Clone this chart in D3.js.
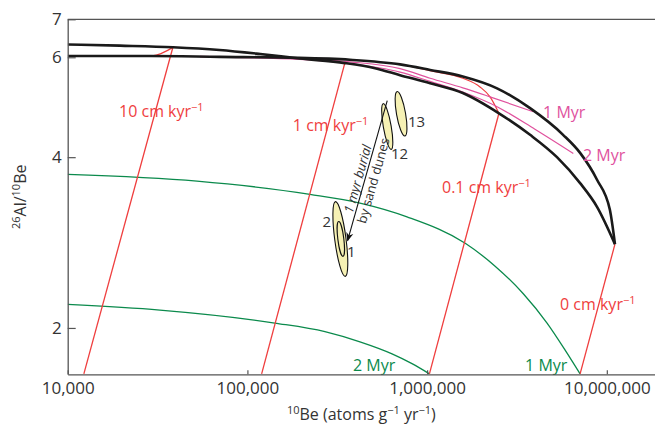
<!DOCTYPE html>
<html>
<head>
<meta charset="utf-8">
<script src="https://cdn.jsdelivr.net/npm/d3@7"></script>
<style>
  body { margin: 0; background: #fff; }
  svg { display: block; font-family: "Open Sans", sans-serif; }
</style>
</head>
<body>
<svg></svg>
<script>
// Values: 10Be (atoms g-1 yr-1) and 26Al/10Be ratio

// Steady-state erosion curve
const erosionBe = [1.0e4, 1.95e4, 3.85e4, 7.0e4, 1.18e5, 1.96e5, 3.49e5, 5.13e5, 7.07e5, 1.04e6, 1.58e6, 2.51e6, 3.74e6, 5.28e6, 7.1e6, 8.82e6, 1.11e7];
const erosionRatio = [6.32, 6.29, 6.25, 6.18, 6.08, 5.97, 5.86, 5.74, 5.58, 5.40, 5.19, 4.78, 4.38, 4.0, 3.60, 3.27, 2.81];

// Constant exposure curve
const exposureBe = [1.0e4, 2.87e4, 7.0e4, 1.73e5, 3.72e5, 7.07e5, 1.04e6, 1.58e6, 2.45e6, 3.74e6, 5.71e6, 7.1e6, 8.82e6, 1.04e7, 1.11e7];
const exposureRatio = [6.03, 6.03, 6.01, 5.99, 5.94, 5.83, 5.70, 5.55, 5.29, 4.88, 4.38, 4.07, 3.65, 3.23, 2.81];

// Exposure isochrons (magenta)
const iso1Be = [5.45e4, 1.96e5, 3.72e5, 7.07e5, 1.04e6, 1.58e6, 2.24e6, 3.90e6];
const iso1Ratio = [6.02, 5.97, 5.89, 5.73, 5.51, 5.30, 5.11, 4.81];
const iso2Be = [5.45e4, 1.96e5, 3.72e5, 7.07e5, 1.04e6, 1.58e6, 2.45e6, 3.98e6, 6.51e6];
const iso2Ratio = [6.01, 5.95, 5.85, 5.65, 5.44, 5.21, 4.91, 4.48, 4.06];

// Burial isochrons (green)
const burial1Be = [1.0e4, 5.24e4, 2.23e5, 4.23e5, 7.73e5, 1.63e6, 2.39e6, 3.42e6, 4.65e6, 5.85e6, 7.1e6];
const burial1Ratio = [3.73, 3.63, 3.44, 3.32, 3.14, 2.82, 2.57, 2.30, 2.04, 1.83, 1.66];
const burial2Be = [1.0e4, 3.26e4, 1.42e5, 2.70e5, 4.23e5, 6.38e5, 8.24e5, 1.03e6];
const burial2Ratio = [2.20, 2.15, 2.04, 1.97, 1.89, 1.80, 1.73, 1.66];

// Erosion-rate burial paths (red): top on the erosion curve, bottom at the axis
const rateNames = ["10 cm kyr", "1 cm kyr", "0.1 cm kyr", "0 cm kyr"];
const rateTopBe = [3.85e4, 3.49e5, 2.51e6, 1.11e7];
const rateTopRatio = [6.25, 5.87, 4.78, 2.81];
const rateBottomBe = [1.23e4, 1.20e5, 1.03e6, 7.1e6];
const rateBottomRatio = [1.66, 1.66, 1.66, 1.66];

// Short red hooks at the top of two paths
const hook10Be = [2.03e4, 3.0e4, 3.3e4, 3.6e4, 3.85e4];
const hook10Ratio = [6.03, 6.04, 6.09, 6.17, 6.25];
const hook01Be = [8.03e5, 1.04e6, 1.58e6, 1.97e6, 2.24e6, 2.51e6];
const hook01Ratio = [5.79, 5.68, 5.51, 5.32, 5.11, 4.78];

// Samples: centre and upper end of the error ellipse
const sampleNames = ["13", "12", "2", "1"];
const sampleBe = [7.16e5, 6.0e5, 3.29e5, 3.31e5];
const sampleRatio = [4.77, 4.53, 2.87, 2.87];
const sampleBeTop = [6.81e5, 5.70e5, 3.09e5, 3.22e5];
const sampleRatioTop = [5.22, 4.97, 3.34, 3.08];

// Burial arrow (from sample 12 towards sample 1)
const arrowBe = [6.0e5, 3.61e5];
const arrowRatio = [5.03, 2.85];

const xTicks = [1e4, 1e5, 1e6, 1e7];
const yTicks = [2, 4, 6, 7];

// Setting the dimensions of the graph
const width = 655;
const height = 424;
const plot = { left: 67.7, right: 655, top: 19.3, bottom: 374.3 };

const svg = d3.select("svg").attr("width", width).attr("height", height);

const x = d3.scaleLog().domain([1e4, 1.854e7]).range([plot.left, plot.right]);
const y = d3.scaleLog().domain([1.657, 7]).range([plot.bottom, plot.top]);

const red = "#ef3e3e";
const green = "#0b8a4c";
const pink = "#e0529e";
const ink = "#333";

svg.append("clipPath").attr("id", "clip")
  .append("rect")
  .attr("x", plot.left).attr("y", plot.top)
  .attr("width", plot.right - plot.left).attr("height", plot.bottom - plot.top);

const zip = (xs, ys) => xs.map((v, i) => [v, ys[i]]);
const line = d3.line().x((d) => x(d[0])).y((d) => y(d[1])).curve(d3.curveMonotoneX);

const g = svg.append("g").attr("clip-path", "url(#clip)");

// Green burial isochrons
[[burial1Be, burial1Ratio], [burial2Be, burial2Ratio]].forEach(([bx, by]) => {
  g.append("path").attr("d", line(zip(bx, by)))
    .attr("fill", "none").attr("stroke", green).attr("stroke-width", 1.3);
});

// Red erosion-rate paths
rateNames.forEach((n, i) => {
  g.append("path")
    .attr("d", line([[rateBottomBe[i], rateBottomRatio[i]], [rateTopBe[i], rateTopRatio[i]]]))
    .attr("fill", "none").attr("stroke", red).attr("stroke-width", 1.3);
});
[[hook10Be, hook10Ratio], [hook01Be, hook01Ratio]].forEach(([bx, by]) => {
  g.append("path").attr("d", line(zip(bx, by)))
    .attr("fill", "none").attr("stroke", red).attr("stroke-width", 1.2);
});

// Magenta exposure isochrons
[[iso1Be, iso1Ratio], [iso2Be, iso2Ratio]].forEach(([bx, by]) => {
  g.append("path").attr("d", line(zip(bx, by)))
    .attr("fill", "none").attr("stroke", pink).attr("stroke-width", 1.2);
});

// Black envelope curves
[[erosionBe, erosionRatio], [exposureBe, exposureRatio]].forEach(([bx, by]) => {
  g.append("path").attr("d", line(zip(bx, by)))
    .attr("fill", "none").attr("stroke", "#1a1a1a").attr("stroke-width", 2.6)
    .attr("stroke-linejoin", "round");
});

// Sample error ellipses
const aspect = [0.2, 0.17, 0.15, 0.17];
sampleNames.forEach((n, i) => {
  const cx = x(sampleBe[i]), cy = y(sampleRatio[i]);
  const tx = x(sampleBeTop[i]), ty = y(sampleRatioTop[i]);
  const a = Math.hypot(tx - cx, ty - cy);
  const ang = (Math.atan2(ty - cy, tx - cx) * 180) / Math.PI;
  svg.append("ellipse")
    .attr("transform", `translate(${cx},${cy}) rotate(${ang})`)
    .attr("rx", a).attr("ry", a * aspect[i])
    .attr("fill", "#f6f1b4").attr("stroke", "#111").attr("stroke-width", 1.1);
});

// Burial arrow
svg.append("defs").append("marker")
  .attr("id", "head").attr("viewBox", "0 0 10 10")
  .attr("refX", 9).attr("refY", 5)
  .attr("markerWidth", 9).attr("markerHeight", 9)
  .attr("markerUnits", "userSpaceOnUse")
  .attr("orient", "auto")
  .append("path").attr("d", "M0,1 L10,5 L0,9 L3,5 Z").attr("fill", "#111");

const a0 = [x(arrowBe[0]), y(arrowRatio[0])];
const a1 = [x(arrowBe[1]), y(arrowRatio[1])];
svg.append("line")
  .attr("x1", a0[0]).attr("y1", a0[1]).attr("x2", a1[0]).attr("y2", a1[1])
  .attr("stroke", "#111").attr("stroke-width", 1.1)
  .attr("marker-end", "url(#head)");

// Text helper with superscripts
function rich(text, parts, base, sup) {
  let up = false;
  parts.forEach(([t, isSup]) => {
    const ts = text.append("tspan").text(t);
    if (isSup) {
      ts.style("font-size", sup + "px");
      if (!up) { ts.attr("dy", -base * 0.38); up = true; }
    } else if (up) {
      ts.attr("dy", base * 0.38);
      up = false;
    }
  });
  return text;
}

// Arrow annotation
const mid = [(a0[0] + a1[0]) / 2, (a0[1] + a1[1]) / 2];
const rot = (Math.atan2(a0[1] - a1[1], a0[0] - a1[0]) * 180) / Math.PI;
const ann = svg.append("g")
  .attr("transform", `translate(${mid[0]},${mid[1]}) rotate(${rot})`)
  .style("font-size", "13px").attr("fill", ink)
  .attr("text-anchor", "middle").attr("dominant-baseline", "central");
ann.append("text").attr("x", -10.5).attr("y", -7.5).style("font-style", "italic").text("1 myr burial");
ann.append("text").attr("x", -8).attr("y", 8).text("by sand dunes");

// Labels placed in data space
const labels = [
  { p: ["10 cm kyr", "−1"], be: 1.93e4, r: 4.81, c: red },
  { p: ["1 cm kyr", "−1"], be: 1.79e5, r: 4.54, c: red },
  { p: ["0.1 cm kyr", "−1"], be: 1.21e6, r: 3.54, c: red },
  { p: ["0 cm kyr", "−1"], be: 5.49e6, r: 2.20, c: red },
  { p: ["1 Myr"], be: 4.42e6, r: 4.79, c: pink },
  { p: ["2 Myr"], be: 7.37e6, r: 4.02, c: pink },
  { p: ["2 Myr"], be: 3.87e5, r: 1.72, c: green },
  { p: ["1 Myr"], be: 3.51e6, r: 1.72, c: green },
];
labels.forEach((l) => {
  const t = svg.append("text")
    .attr("x", x(l.be)).attr("y", y(l.r) + 5.5)
    .attr("fill", l.c).style("font-size", "16px");
  rich(t, l.p.map((s, i) => [s, i === 1]), 16, 11);
});

const sampleLabelBe = [7.83e5, 6.30e5, 2.92e5, 3.58e5];
const sampleLabelRatio = [4.62, 4.05, 3.08, 2.73];
sampleNames.forEach((n, i) => {
  svg.append("text")
    .attr("x", x(sampleLabelBe[i])).attr("y", y(sampleLabelRatio[i]) + 5.3)
    .attr("text-anchor", n === "2" ? "end" : "start")
    .attr("fill", ink).style("font-size", "15px")
    .text(n);
});

// Axes
const xAxis = svg.append("g")
  .attr("transform", `translate(0,${plot.bottom})`)
  .call(d3.axisBottom(x).tickValues(xTicks).tickSize(-4).tickSizeOuter(0)
    .tickPadding(8).tickFormat(d3.format(",")));
const yAxis = svg.append("g")
  .attr("transform", `translate(${plot.left},0)`)
  .call(d3.axisLeft(y).tickValues(yTicks).tickSize(-8).tickSizeOuter(0)
    .tickPadding(6).tickFormat(d3.format("d")));

[xAxis, yAxis].forEach((ax) => {
  ax.select(".domain").attr("stroke", "#555").attr("stroke-width", 1.3);
  ax.selectAll(".tick line").attr("stroke", "#555").attr("stroke-width", 1.2);
  ax.selectAll(".tick text").attr("fill", ink).style("font-size", "17px")
    .style("font-family", "'Open Sans', sans-serif");
});

// Top border
svg.append("line")
  .attr("x1", plot.left).attr("x2", plot.right)
  .attr("y1", y(7)).attr("y2", y(7))
  .attr("stroke", "#555").attr("stroke-width", 1.3);

// Axis titles
rich(svg.append("text")
  .attr("x", (plot.left + plot.right) / 2).attr("y", 420)
  .attr("text-anchor", "middle").attr("fill", ink).style("font-size", "16px"),
  [["10", true], ["Be (atoms g"], ["−1", true], [" yr"], ["−1", true], [")"]], 16, 11);

rich(svg.append("text")
  .attr("transform", `translate(26,${(plot.top + plot.bottom) / 2}) rotate(-90)`)
  .attr("text-anchor", "middle").attr("fill", ink).style("font-size", "16px"),
  [["26", true], ["Al/"], ["10", true], ["Be"]], 16, 11);
</script>
</body>
</html>
